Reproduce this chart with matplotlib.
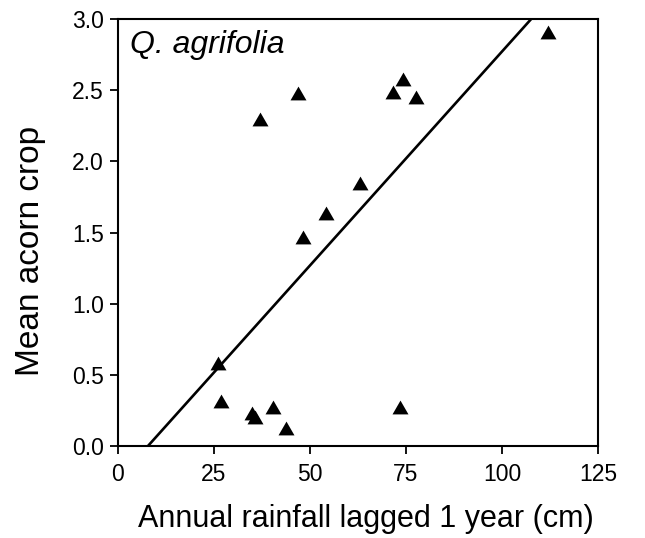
import matplotlib
matplotlib.use("Agg")
import matplotlib.pyplot as plt
import numpy as np
from matplotlib.path import Path

# Data
rainfall = [112.0, 74.3, 71.5, 77.5, 47.0, 36.9, 63.1, 54.2, 48.3,
            26.1, 26.7, 34.8, 35.8, 40.4, 43.8, 73.4]
acorn = [2.91, 2.58, 2.49, 2.45, 2.48, 2.30, 1.85, 1.64, 1.47,
         0.585, 0.316, 0.23, 0.206, 0.276, 0.124, 0.276]
fit_slope = 0.03006
fit_intercept = -0.2345
xticks = [0, 25, 50, 75, 100, 125]
yticks = [0.0, 0.5, 1.0, 1.5, 2.0, 2.5, 3.0]

plt.rcParams['font.family'] = ['Liberation Sans', 'DejaVu Sans']

fig = plt.figure(figsize=(6.45, 5.38), dpi=100)
ax = fig.add_axes([118/645, 1-446/538, 480/645, 427/538])

tri = Path([(-1, -0.866), (1, -0.866), (0, 0.866), (-1, -0.866)],
           [Path.MOVETO, Path.LINETO, Path.LINETO, Path.CLOSEPOLY])
ax.plot(rainfall, acorn, linestyle='none', marker=tri, markersize=11.5,
        color='black', markeredgewidth=0, zorder=3)

xl = np.array([0, 125])
ax.plot(xl, fit_slope * xl + fit_intercept, color='black', lw=1.9, zorder=2)

ax.set_xlim(0, 125)
ax.set_ylim(0, 3.0)
ax.set_xticks(xticks)
ax.set_xticklabels([str(t) for t in xticks])
ax.set_yticks(yticks)
ax.set_yticklabels([f"{t:.1f}" for t in yticks])
for s in ax.spines.values():
    s.set_linewidth(1.5)
ax.tick_params(direction='out', length=6, width=1.3, labelsize=16.5)
ax.tick_params(axis='x', pad=6)
ax.tick_params(axis='y', pad=4)

ax.set_xlabel("Annual rainfall lagged 1 year (cm)", fontsize=22)
ax.xaxis.set_label_coords(0.517, -0.135)
ax.set_ylabel("Mean acorn crop", fontsize=24)
ax.yaxis.set_label_coords(-0.15, 0.457)

ax.text(0.025, 0.975, "Q. agrifolia", transform=ax.transAxes, fontsize=23,
        style='italic', ha='left', va='top')

fig.savefig("out.png", dpi=100)
